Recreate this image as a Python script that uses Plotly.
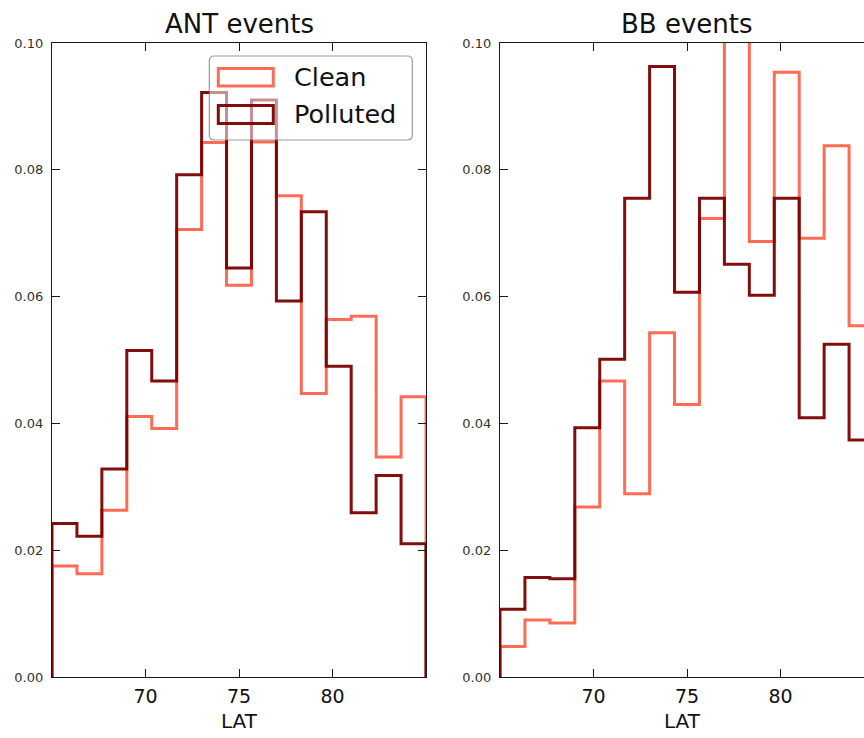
import numpy as np
import plotly.graph_objects as go

# ---- data ----
LAT_MIN = 65.0
LAT_MAX = 85.0
N_BINS = 15
lat_edges = np.linspace(LAT_MIN, LAT_MAX, N_BINS + 1)

ant_clean = [0.0175, 0.0163, 0.0263, 0.0411, 0.0392, 0.0706, 0.0843, 0.0618,
             0.0844, 0.0759, 0.0447, 0.0564, 0.0569, 0.0347, 0.0442]
ant_polluted = [0.0242, 0.0222, 0.0328, 0.0515, 0.0467, 0.0792, 0.0922, 0.0645,
                0.0910, 0.0593, 0.0734, 0.0490, 0.0259, 0.0318, 0.0210]
bb_clean = [0.0048, 0.0090, 0.0085, 0.0268, 0.0467, 0.0289, 0.0543, 0.0430,
            0.0723, 0.1120, 0.0687, 0.0954, 0.0692, 0.0838, 0.0554]
bb_polluted = [0.0107, 0.0157, 0.0155, 0.0393, 0.0501, 0.0755, 0.0963, 0.0607,
               0.0755, 0.0651, 0.0602, 0.0755, 0.0409, 0.0525, 0.0374]

titles = ["ANT events", "BB events"]
series_names = ["Clean", "Polluted"]
x_ticks = [70, 75, 80]
y_ticks = [0.00, 0.02, 0.04, 0.06, 0.08, 0.10]
y_tick_text = ["0.00", "0.02", "0.04", "0.06", "0.08", "0.10"]
x_label = "LAT"

# ---- styles ----
CLEAN_COLOR = "rgba(255,92,68,0.9)"
POLL_COLOR = "rgba(122,0,0,0.95)"
FONT = "DejaVu Sans"
AX_COLOR = "#1a1a1a"


def step_xy(edges, values):
    xs = [edges[0]]
    ys = [0.0]
    for i, v in enumerate(values):
        xs += [edges[i], edges[i + 1]]
        ys += [v, v]
    xs.append(edges[-1])
    ys.append(0.0)
    return xs, ys


fig = go.Figure()

panels = [(ant_clean, ant_polluted, "x", "y"), (bb_clean, bb_polluted, "x2", "y2")]
for k, (clean, poll, xa, ya) in enumerate(panels):
    for name, vals, col in [(series_names[0], clean, CLEAN_COLOR),
                            (series_names[1], poll, POLL_COLOR)]:
        xs, ys = step_xy(lat_edges, vals)
        fig.add_trace(go.Scatter(x=xs, y=ys, mode="lines", name=name,
                                 line=dict(color=col, width=3),
                                 xaxis=xa, yaxis=ya, showlegend=False,
                                 hoverinfo="skip"))

W, H = 864, 738
L, R, T, B = 52, 0, 43, 61
plot_w = W - L - R
ax1_w = 374
gap = 500 - 426
d1 = [0, ax1_w / plot_w]
d2 = [(ax1_w + gap) / plot_w, 1.0]
px_per_unit = ax1_w / (LAT_MAX - LAT_MIN)
right_visible_max = LAT_MIN + (W - 500) / px_per_unit

common_x = dict(tickmode="array", tickvals=x_ticks, ticks="inside", ticklen=8,
                tickwidth=1, tickcolor=AX_COLOR, showline=True, linecolor=AX_COLOR,
                linewidth=1.3, showgrid=False, zeroline=False,
                tickfont=dict(family=FONT, size=19, color="#111"),
                title=dict(text=x_label, font=dict(family=FONT, size=20, color="#111"),
                           standoff=8),
                ticklabelstandoff=2)
common_y = dict(tickmode="array", tickvals=y_ticks, ticktext=y_tick_text,
                range=[0, 0.1], ticks="inside", ticklen=8, tickwidth=1,
                tickcolor=AX_COLOR, showline=True, linecolor=AX_COLOR,
                linewidth=1.3, showgrid=False, zeroline=False,
                tickfont=dict(family=FONT, size=13, color="#333"),
                ticklabelstandoff=5)

fig.update_layout(
    width=W, height=H,
    margin=dict(l=L, r=R, t=T, b=B),
    paper_bgcolor="white", plot_bgcolor="white",
    xaxis=dict(domain=d1, range=[LAT_MIN, LAT_MAX], mirror="ticks", anchor="y", **common_x),
    yaxis=dict(domain=[0, 1], mirror="ticks", anchor="x", **common_y),
    xaxis2=dict(domain=d2, range=[LAT_MIN, right_visible_max], mirror="ticks", anchor="y2", **common_x),
    yaxis2=dict(domain=[0, 1], mirror=False, anchor="x2", **common_y),
    showlegend=False,
)

# titles
for k, t in enumerate(titles):
    xr = "x domain" if k == 0 else "x2 domain"
    cx = 0.5 if k == 0 else (ax1_w / 2) / (W - 500)
    fig.add_annotation(text=t, xref=xr, yref="y domain", x=cx, y=1.03,
                       xanchor="center", yanchor="middle", showarrow=False,
                       font=dict(family=FONT, size=26, color="#111"))

# manual legend (matplotlib-style box with outlined patches)
lx0, lx1 = 157.3 / ax1_w, 360.3 / ax1_w
ly1, ly0 = 1 - 13 / 634, 1 - 97 / 634
rx, ry = 5 / ax1_w, 5 / 634
path = (f"M {lx0+rx},{ly1} L {lx1-rx},{ly1} Q {lx1},{ly1} {lx1},{ly1-ry} "
        f"L {lx1},{ly0+ry} Q {lx1},{ly0} {lx1-rx},{ly0} L {lx0+rx},{ly0} "
        f"Q {lx0},{ly0} {lx0},{ly0+ry} L {lx0},{ly1-ry} Q {lx0},{ly1} {lx0+rx},{ly1} Z")
fig.add_shape(type="path", path=path, xref="x domain", yref="y domain",
              fillcolor="rgba(255,255,255,0.55)", line=dict(color="rgba(90,90,90,0.6)", width=1.2),
              layer="above")
patch_x0, patch_x1 = 166.3 / ax1_w, 221.3 / ax1_w
patches = [(1 - 25.5 / 634, 1 - 43 / 634, CLEAN_COLOR),
           (1 - 62.5 / 634, 1 - 80.5 / 634, POLL_COLOR)]
for (y1, y0, col), name in zip(patches, series_names):
    fig.add_shape(type="rect", xref="x domain", yref="y domain",
                  x0=patch_x0, x1=patch_x1, y0=y0, y1=y1,
                  line=dict(color=col, width=3), fillcolor="rgba(0,0,0,0)", layer="above")
    fig.add_annotation(text=name, xref="x domain", yref="y domain",
                       x=240 / ax1_w, y=(y0 + y1) / 2, xanchor="left", yanchor="middle",
                       showarrow=False, font=dict(family=FONT, size=25.5, color="#111"))

fig.write_html("out.html")
